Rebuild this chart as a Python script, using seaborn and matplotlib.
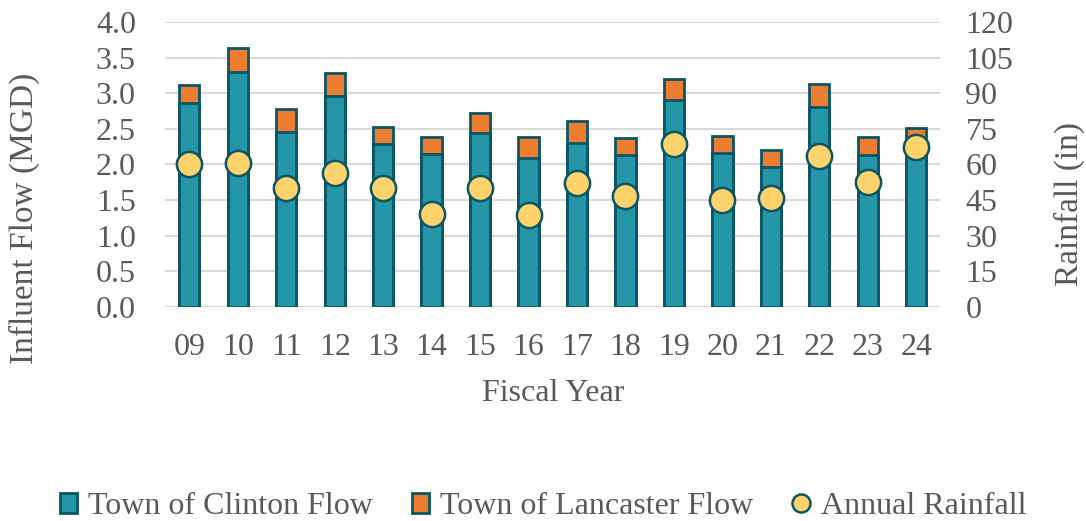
import numpy as np
import pandas as pd
import matplotlib.pyplot as plt
import seaborn as sns
from matplotlib.patches import Patch
from matplotlib.lines import Line2D

# Data
years = ['09', '10', '11', '12', '13', '14', '15', '16',
         '17', '18', '19', '20', '21', '22', '23', '24']
clinton_flow = [2.86, 3.30, 2.45, 2.96, 2.29, 2.15, 2.44, 2.09,
                2.30, 2.13, 2.91, 2.16, 1.96, 2.81, 2.13, 2.33]
lancaster_flow = [0.25, 0.33, 0.33, 0.32, 0.24, 0.23, 0.28, 0.30,
                  0.31, 0.24, 0.29, 0.24, 0.24, 0.32, 0.26, 0.18]
rainfall = [60.0, 60.4, 50.1, 56.5, 50.0, 38.9, 50.0, 38.5,
            52.3, 46.5, 68.7, 45.2, 45.8, 63.7, 52.4, 67.5]

df = pd.DataFrame({'year': years, 'clinton': clinton_flow,
                   'lancaster': lancaster_flow, 'rain': rainfall})
df['total'] = df['clinton'] + df['lancaster']

teal = '#2596A8'
orange = '#ED7D31'
yellow = '#FFD36B'
edge = '#0B5566'
text_c = '#595959'
fs = 23

sns.set_theme(style='white')
plt.rcParams['font.family'] = ['Liberation Serif', 'DejaVu Serif']

fig = plt.figure(figsize=(10.86, 5.21), dpi=100)
ax = fig.add_axes([0.152, 0.411, 0.714, 0.547])

# stacked bars: total first (Lancaster shows on top), then Clinton over it
sns.barplot(data=df, x='year', y='total', color=orange, width=0.42,
            edgecolor=edge, linewidth=2, saturation=1, ax=ax)
sns.barplot(data=df, x='year', y='clinton', color=teal, width=0.42,
            edgecolor=edge, linewidth=2, saturation=1, ax=ax)

ax.set_ylim(0, 4.0)
ax.set_xlim(-0.5, len(years) - 0.5)
ax.set_yticks(np.arange(0, 4.01, 0.5))
ax.set_yticklabels([f'{v:.1f}' for v in np.arange(0, 4.01, 0.5)])
ax.yaxis.grid(True, color='#D9D9D9', linewidth=1.5)
ax.set_axisbelow(True)
for s in ax.spines.values():
    s.set_visible(False)
ax.tick_params(axis='y', length=0, labelsize=fs, labelcolor=text_c, pad=21)
ax.tick_params(axis='x', length=0, labelsize=fs, labelcolor=text_c, pad=19)
ax.set_xlabel('Fiscal Year', fontsize=fs, color=text_c, labelpad=12)
ax.set_ylabel('Influent Flow (MGD)', fontsize=24, color=text_c)
ax.yaxis.set_label_coords(-0.161, 0.31)

ax2 = ax.twinx()
sns.scatterplot(x=np.arange(len(years)), y=rainfall, ax=ax2, s=330,
                color=yellow, edgecolor=edge, linewidth=1.8, zorder=5)
ax2.set_ylim(0, 120)
ax2.set_yticks(np.arange(0, 121, 15))
ax2.set_xlim(-0.5, len(years) - 0.5)
for s in ax2.spines.values():
    s.set_visible(False)
ax2.tick_params(axis='y', length=0, labelsize=fs, labelcolor=text_c, pad=18)
ax2.set_ylabel('Rainfall (in)', fontsize=24, color=text_c)
ax2.yaxis.set_label_coords(1.146, 0.36)
ax2.grid(False)

handles = [
    Patch(facecolor=teal, edgecolor=edge, linewidth=2),
    Patch(facecolor=orange, edgecolor=edge, linewidth=2),
    Line2D([], [], marker='o', linestyle='', markersize=13,
           markerfacecolor=yellow, markeredgecolor=edge, markeredgewidth=1.8),
]
labels = ['Town of Clinton Flow', 'Town of Lancaster Flow', 'Annual Rainfall']
leg = fig.legend(handles, labels, loc='center', bbox_to_anchor=(0.5, 0.028),
                 ncol=3, frameon=False, fontsize=fs, handlelength=0.55,
                 handleheight=0.6, handletextpad=0.35, columnspacing=1.2)
for t in leg.get_texts():
    t.set_color(text_c)

fig.savefig('out.png', dpi=100)
